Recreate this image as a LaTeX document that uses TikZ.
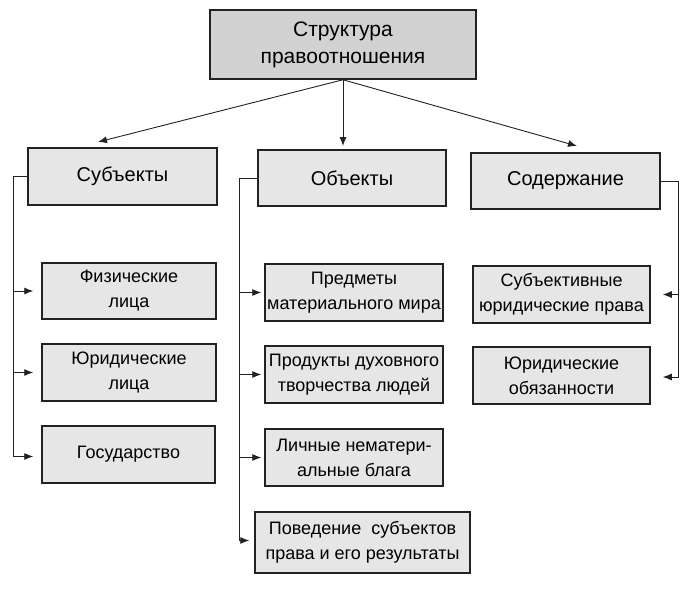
\documentclass[tikz,border=0pt]{standalone}
\usepackage{fontspec}
\setmainfont{Liberation Sans}
\usetikzlibrary{arrows.meta}
\definecolor{boxfill}{HTML}{E6E6E6}
\definecolor{topfill}{HTML}{D2D2D2}
\definecolor{ink}{HTML}{222222}
\tikzset{
  box/.style={draw=ink, line width=1.5pt, fill=boxfill, align=center, inner sep=0pt,
    font=\fontsize{18}{25}\selectfont},
  headbox/.style={box, font=\fontsize{20}{26}\selectfont},
  topbox/.style={box, fill=topfill, font=\fontsize{21}{27}\selectfont},
  conn/.style={draw=ink, line width=0.9pt},
  arr/.style={conn, -{Latex[length=9pt,width=7pt]}},
}
\begin{document}
\begin{tikzpicture}[x=1pt,y=-1pt]
\useasboundingbox (0,0) rectangle (692,591);
\fill[white] (0,0) rectangle (692,591);

\node[topbox, minimum width=266pt, minimum height=69pt] (top) at (343,44.5) {Структура\\правоотношения};

\node[headbox, minimum width=189pt, minimum height=57pt] (subj) at (122.5,176.5) {Субъекты};
\node[headbox, minimum width=188pt, minimum height=56pt] (obj) at (352,178) {Объекты};
\node[headbox, minimum width=189pt, minimum height=56pt] (sod) at (565.5,181) {Содержание};

\node[box, minimum width=174pt, minimum height=56pt] (fiz) at (129,291) {Физические\\лица};
\node[box, minimum width=174pt, minimum height=57pt] (jur) at (129,372.5) {Юридические\\лица};
\node[box, minimum width=173pt, minimum height=57pt] (gos) at (128.5,454.5) {Государство};

\node[box, minimum width=178pt, minimum height=57pt] (pred) at (354,292.5) {Предметы\\материального мира};
\node[box, minimum width=178pt, minimum height=57pt] (prod) at (354,374.5) {Продукты духовного\\творчества людей};
\node[box, minimum width=178pt, minimum height=57pt] (lich) at (354,457.5) {Личные нематери-\\альные блага};
\node[box, minimum width=215pt, minimum height=61pt] (pov) at (362.5,542.5) {Поведение~~субъектов\\права и его результаты};

\node[box, minimum width=177pt, minimum height=57pt] (sprav) at (561.5,294.5) {Субъективные\\юридические права};
\node[box, minimum width=177pt, minimum height=57pt] (jobl) at (561.5,375.5) {Юридические\\обязанности};

% top arrows
\coordinate (tL) at (98,142);
\coordinate (tM) at (343,146);
\coordinate (tR) at (577,146);
\draw[arr] (top.south) -- (tL);
\draw[arr] (top.south) -- (tM);
\draw[arr] (top.south) -- (tR);

% left branch
\coordinate (bl) at (13,0);
\draw[arr] (subj.west) -- (subj.west -| bl) |- ([xshift=-8pt,yshift=-2pt]gos.west);
\draw[arr] (fiz.west -| bl) -- ([xshift=-8pt]fiz.west);
\draw[arr] (jur.west -| bl) -- ([xshift=-8pt]jur.west);

% middle branch
\coordinate (bm) at (239,0);
\draw[arr] (obj.west) -- (obj.west -| bm) |- ([xshift=-5pt,yshift=2pt]pov.west);
\draw[arr] (pred.west -| bm) -- ([xshift=-3pt]pred.west);
\draw[arr] (prod.west -| bm) -- ([xshift=-3pt]prod.west);
\draw[arr] (lich.west -| bm) -- ([xshift=-3pt]lich.west);

% right branch
\coordinate (br) at (678,0);
\draw[arr] (sod.east) -- (sod.east -| br) |- ([xshift=12pt,yshift=-1.5pt]jobl.east);
\draw[arr] (sprav.east -| br) -- ([xshift=12pt]sprav.east);
\end{tikzpicture}
\end{document}
